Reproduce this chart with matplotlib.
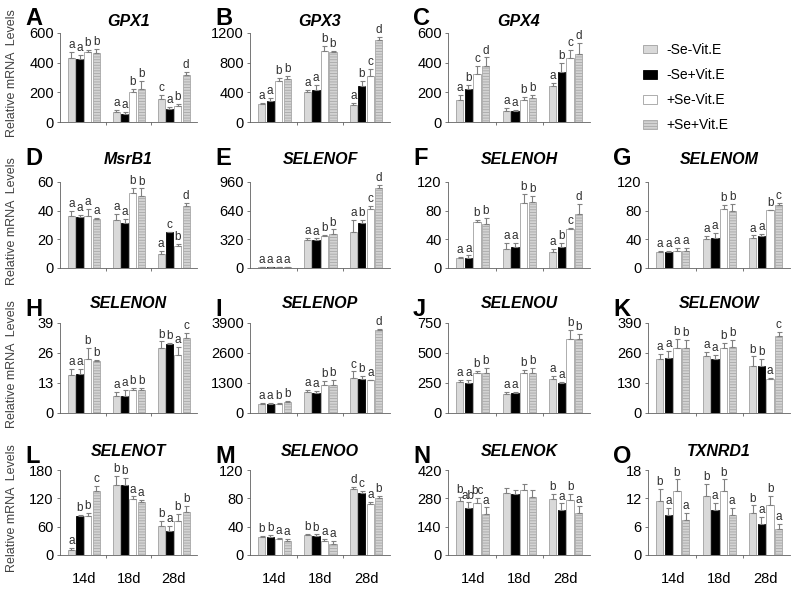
import numpy as np
import matplotlib.pyplot as plt
from matplotlib.patches import Patch

plt.rcParams['font.family'] = ['Liberation Sans', 'DejaVu Sans']
plt.rcParams['hatch.linewidth'] = 0.6

days = ['14d', '18d', '28d']
groups = ['-Se-Vit.E', '-Se+Vit.E', '+Se-Vit.E', '+Se+Vit.E']
tags = list('ABCDEFGHIJKLMNO')
genes = ['GPX1', 'GPX3', 'GPX4', 'MsrB1', 'SELENOF', 'SELENOH', 'SELENOM',
         'SELENON', 'SELENOP', 'SELENOU', 'SELENOW', 'SELENOT', 'SELENOO',
         'SELENOK', 'TXNRD1']
ymax = [600, 1200, 600, 60, 960, 120, 120, 39, 3900, 750, 390, 180, 120, 420, 18]

# mean per day (rows) and group (cols), upper error, significance letters
gpx1 = [[430, 425, 470, 465], [65, 55, 205, 220], [155, 85, 110, 320]]
gpx1_err = [[45, 30, 15, 25], [15, 10, 15, 55], [30, 15, 10, 20]]
gpx1_sig = [['a', 'a', 'b', 'b'], ['a', 'a', 'b', 'b'], ['c', 'a', 'b', 'd']]

gpx3 = [[240, 280, 550, 580], [400, 430, 960, 940], [230, 490, 620, 1100]]
gpx3_err = [[20, 40, 50, 40], [30, 70, 60, 20], [25, 60, 90, 50]]
gpx3_sig = [['a', 'a', 'b', 'b'], ['a', 'a', 'b', 'b'], ['a', 'b', 'c', 'd']]

gpx4 = [[150, 220, 325, 375], [75, 75, 150, 160], [240, 335, 430, 460]]
gpx4_err = [[30, 30, 50, 60], [20, 5, 20, 20], [25, 65, 55, 70]]
gpx4_sig = [['a', 'b', 'c', 'd'], ['a', 'a', 'b', 'b'], ['a', 'b', 'c', 'd']]

msrb1 = [[36.5, 35.5, 36, 34.5], [33.5, 31.5, 52, 50.5], [9.5, 25, 15, 43.5]]
msrb1_err = [[3.5, 1.5, 5, 0.5], [4, 2.5, 4, 5], [2.5, 0.3, 1.5, 2]]
msrb1_sig = [['a', 'a', 'a', 'a'], ['a', 'a', 'b', 'b'], ['a', 'c', 'b', 'd']]

selenof = [[8, 12, 8, 6], [315, 315, 360, 385], [405, 505, 660, 895]]
selenof_err = [[2, 2, 2, 2], [25, 15, 10, 45], [130, 35, 30, 30]]
selenof_sig = [['a', 'a', 'a', 'a'], ['a', 'a', 'b', 'b'], ['a', 'b', 'c', 'd']]

selenoh = [[13.5, 14.5, 64, 61], [26.5, 29.5, 90, 92], [22.5, 29.5, 54, 75.5]]
selenoh_err = [[1.5, 3, 3, 9], [8, 5, 13, 9], [4, 5, 2, 14]]
selenoh_sig = [['a', 'a', 'b', 'b'], ['a', 'a', 'b', 'b'], ['a', 'b', 'c', 'd']]

selenom = [[22, 22, 24, 24], [41, 41.5, 82, 79], [42.5, 44, 80.5, 88.5]]
selenom_err = [[2, 2, 4, 4], [4, 7, 6, 10], [3, 3, 1, 2]]
selenom_sig = [['a', 'a', 'a', 'a'], ['a', 'a', 'b', 'b'], ['a', 'a', 'b', 'c']]

selenon = [[16.5, 17, 23.5, 22.5], [7.5, 7.5, 10, 10], [28, 30, 25, 32.5]]
selenon_err = [[2.5, 2, 4.5, 0.5], [1.5, 2.5, 1, 1], [3, 0.5, 3.5, 2]]
selenon_sig = [['a', 'a', 'b', 'b'], ['a', 'a', 'b', 'b'], ['b', 'b', 'a', 'c']]

selenop = [[380, 390, 400, 460], [930, 870, 1220, 1200], [1500, 1470, 1420, 3600]]
selenop_err = [[40, 30, 20, 50], [70, 70, 170, 230], [300, 130, 20, 30]]
selenop_sig = [['a', 'a', 'b', 'b'], ['a', 'a', 'b', 'b'], ['c', 'b', 'a', 'd']]

selenou = [[255, 250, 330, 335], [160, 165, 330, 335], [285, 250, 620, 615]]
selenou_err = [[20, 25, 20, 40], [15, 10, 25, 40], [25, 10, 75, 45]]
selenou_sig = [['a', 'a', 'b', 'b'], ['a', 'a', 'b', 'b'], ['a', 'a', 'b', 'b']]

selenow = [[235, 240, 280, 280], [245, 235, 280, 285], [205, 205, 148, 335]]
selenow_err = [[20, 30, 40, 35], [20, 15, 25, 30], [40, 30, 3, 15]]
selenow_sig = [['a', 'a', 'b', 'b'], ['a', 'a', 'b', 'b'], ['b', 'b', 'a', 'c']]

selenot = [[10, 82, 82, 135], [148, 148, 118, 112], [62, 50, 72, 92]]
selenot_err = [[5, 3, 8, 12], [20, 15, 6, 5], [10, 12, 15, 12]]
selenot_sig = [['a', 'b', 'b', 'c'], ['b', 'b', 'a', 'a'], ['b', 'a', 'b', 'b']]

selenoo = [[25, 26, 22, 20], [28, 27, 20, 16], [93, 88, 72, 80]]
selenoo_err = [[2, 2, 2, 3], [2, 2, 3, 4], [3, 3, 3, 4]]
selenoo_sig = [['b', 'b', 'a', 'a'], ['b', 'b', 'a', 'a'], ['d', 'c', 'a', 'b']]

selenok = [[265, 230, 255, 205], [305, 300, 320, 285], [275, 220, 270, 210]]
selenok_err = [[20, 30, 25, 30], [25, 20, 30, 35], [25, 35, 30, 30]]
selenok_sig = [['b', 'ab', 'bc', 'a'], ['', '', '', ''], ['b', 'a', 'b', 'a']]

txnrd1 = [[11.5, 8.5, 13.5, 7.5], [12.5, 9.5, 13.5, 8.5], [9, 6.5, 10.5, 5.5]]
txnrd1_err = [[2.5, 1.5, 2.5, 1.5], [2.5, 1.5, 2.5, 1.5], [1.5, 1.5, 2, 1]]
txnrd1_sig = [['b', 'a', 'b', 'a'], ['b', 'a', 'b', 'a'], ['b', 'a', 'b', 'a']]

means = [gpx1, gpx3, gpx4, msrb1, selenof, selenoh, selenom, selenon,
         selenop, selenou, selenow, selenot, selenoo, selenok, txnrd1]
errs = [gpx1_err, gpx3_err, gpx4_err, msrb1_err, selenof_err, selenoh_err,
        selenom_err, selenon_err, selenop_err, selenou_err, selenow_err,
        selenot_err, selenoo_err, selenok_err, txnrd1_err]
sigs = [gpx1_sig, gpx3_sig, gpx4_sig, msrb1_sig, selenof_sig, selenoh_sig,
        selenom_sig, selenon_sig, selenop_sig, selenou_sig, selenow_sig,
        selenot_sig, selenoo_sig, selenok_sig, txnrd1_sig]

# bar styles
faces = ['#d9d9d9', '#000000', '#ffffff', '#d3d3d3']
edges = ['#a0a0a0', '#000000', '#a0a0a0', '#a8a8a8']
hatches = [None, None, None, '------']

W, H = 798, 598
col_px = [(60, 197), (250, 390), (448, 590), (648, 790)]
row_px = [(33, 122), (182, 268), (323, 413), (470, 555)]
slots = [(0, 0), (0, 1), (0, 2),
         (1, 0), (1, 1), (1, 2), (1, 3),
         (2, 0), (2, 1), (2, 2), (2, 3),
         (3, 0), (3, 1), (3, 2), (3, 3)]
tag_y = [25, 165, 316, 463]
title_y = [22, 160, 303, 452]

fig = plt.figure(figsize=(W / 100, H / 100), dpi=100)

x = np.arange(3)
offs = (np.arange(4) - 1.5) * 0.185
bw = 0.155

for i in range(15):
    r, c = slots[i]
    l, rr = col_px[c]
    t, b = row_px[r]
    ax = fig.add_axes([l / W, 1 - b / H, (rr - l) / W, (b - t) / H])
    m = np.array(means[i], dtype=float)
    e = np.array(errs[i], dtype=float)
    top = ymax[i]
    for g in range(4):
        ax.bar(x + offs[g], m[:, g], bw, color=faces[g], edgecolor=edges[g],
               linewidth=0.6, hatch=hatches[g], zorder=2)
        ax.errorbar(x + offs[g], m[:, g], yerr=[np.zeros(3), e[:, g]],
                    fmt='none', ecolor='#808080', elinewidth=0.8,
                    capsize=1.8, capthick=0.8, zorder=3)
        for d in range(3):
            ax.text(x[d] + offs[g], m[d, g] + e[d, g] + top * 0.01,
                    sigs[i][d][g], ha='center', va='bottom', fontsize=8.5,
                    color='#303030')
    ax.set_xlim(-0.53, 2.52)
    ax.set_ylim(0, top)
    ax.set_yticks(np.linspace(0, top, 4))
    ax.set_yticklabels([f'{v:g}' for v in np.linspace(0, top, 4)],
                       fontsize=10.5)
    ax.set_xticks([0.5, 1.5])
    ax.set_xticklabels([])
    ax.tick_params(axis='both', length=2.5, width=0.6, color='#606060',
                   pad=2)
    if r == 3:
        ax.set_xticks(x, days, minor=True)
        ax.tick_params(axis='x', which='minor', length=0, labelsize=10.5,
                       pad=12)
    for s in ['top', 'right']:
        ax.spines[s].set_visible(False)
    for s in ['left', 'bottom']:
        ax.spines[s].set_color('#606060')
        ax.spines[s].set_linewidth(0.6)
    fig.text((l - 35) / W, 1 - tag_y[r] / H, tags[i], fontsize=17,
             fontweight='bold', ha='left', va='baseline')
    fig.text((l + rr) / 2 / W, 1 - title_y[r] / H, genes[i], fontsize=11.5,
             fontweight='bold', fontstyle='italic', ha='center', va='center')

for r in range(4):
    t, b = row_px[r]
    fig.text(12 / W, 1 - ((t + b) / 2 - 4) / H, 'Relative mRNA  Levels',
             rotation=90, ha='center', va='center', fontsize=9,
             color='#404040')

handles = [Patch(facecolor=faces[g], edgecolor=edges[g], hatch=hatches[g],
                 linewidth=0.6) for g in range(4)]
fig.legend(handles, groups, loc='upper left',
           bbox_to_anchor=(636 / W, 1 - 36 / H), frameon=False, fontsize=10,
           handlelength=1.0, handleheight=0.6, labelspacing=0.8,
           handletextpad=0.7, borderpad=0)

fig.savefig('out.png', dpi=100)
